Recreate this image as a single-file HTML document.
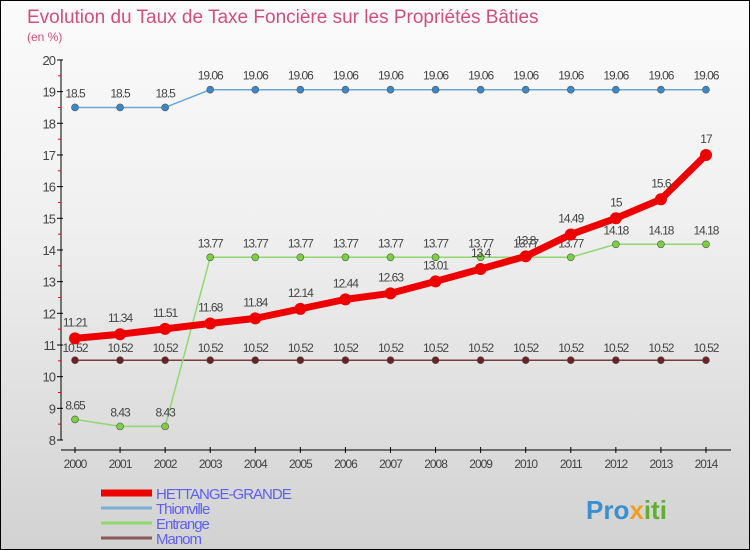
<!DOCTYPE html>
<html><head><meta charset="utf-8"><style>
body{margin:0}
#c{width:748px;height:548px;border:1px solid #000;background:linear-gradient(#fbfbfb,#f0f0f0 40%,#d2d2d2);position:relative;overflow:hidden;font-family:"Liberation Sans",sans-serif}
text{font-family:"Liberation Sans",sans-serif}
</style></head><body>
<div id="c">
<svg id="s" width="748" height="548" xmlns="http://www.w3.org/2000/svg">
<text x="26" y="22" font-size="19" fill="#d0507a">Evolution du Taux de Taxe Foncière sur les Propriétés Bâties</text>
<text x="26" y="40" font-size="12" fill="#d0507a">(en %)</text>
<g id="g"></g>
<text x="585" y="518" font-size="26" font-weight="bold" fill="#3a8fd0">Pro<tspan fill="#f0a020">x</tspan><tspan fill="#60b030">iti</tspan></text>
</svg>
</div>
<script>
const years=[2000,2001,2002,2003,2004,2005,2006,2007,2008,2009,2010,2011,2012,2013,2014];
const hettange=[11.21,11.34,11.51,11.68,11.84,12.14,12.44,12.63,13.01,13.4,13.8,14.49,15,15.6,17];
const hettangeLabels=["11.21","11.34","11.51","11.68","11.84","12.14","12.44","12.63","13.01","13.4","13.8","14.49","15","15.6","17"];
const thionville=[18.5,18.5,18.5,19.06,19.06,19.06,19.06,19.06,19.06,19.06,19.06,19.06,19.06,19.06,19.06];
const entrange=[8.65,8.43,8.43,13.77,13.77,13.77,13.77,13.77,13.77,13.77,13.77,13.77,14.18,14.18,14.18];
const manom=[10.52,10.52,10.52,10.52,10.52,10.52,10.52,10.52,10.52,10.52,10.52,10.52,10.52,10.52,10.52];
const yTicks=[8,9,10,11,12,13,14,15,16,17,18,19,20];
const NS="http://www.w3.org/2000/svg";
const g=document.getElementById('g');
const X=i=>74+i*45.07, Y=v=>439-(v-8)*31.67;
function el(t,a){const e=document.createElementNS(NS,t);for(const k in a)e.setAttribute(k,a[k]);g.appendChild(e);return e;}
let e;
e=el('line',{x1:60,y1:Y(20),x2:60,y2:Y(8),stroke:'#000'});


e=el('line',{x1:60,y1:449,x2:730,y2:449,stroke:'#000'});


yTicks.forEach(v=>{
 el('line',{x1:56,x2:62,y1:Y(v),y2:Y(v),stroke:'#000'});
 if(v<20) el('line',{x1:57,x2:60,y1:Y(v+0.5),y2:Y(v+0.5),stroke:'#f00'});
 e=el('text',{x:54,y:Y(v)+5,'font-size':13,'text-anchor':'end',fill:'#444','letter-spacing':'-1'});e.textContent=v;
 
 
});
years.forEach((y,i)=>{
 el('line',{x1:X(i),x2:X(i),y1:446,y2:452,stroke:'#000'});
 e=el('text',{x:X(i),y:467,'font-size':12,'text-anchor':'middle',fill:'#444','letter-spacing':'-1'});e.textContent=y;
 
 
});
function series(d,col,fill,w,r,name,labels,dy){
 const p=d.map((v,i)=>X(i)+','+Y(v)).join(' ');
 e=el('polyline',{points:p,fill:'none',stroke:col,'stroke-width':w,'stroke-linejoin':'round'});
 
 
 d.forEach((v,i)=>{
  e=el('circle',{cx:X(i),cy:Y(v),r:r,fill:fill,stroke:col==='#e00'?'#e00':'#555','stroke-width':col==='#e00'?0:0.6});
  
  
  e=el('text',{x:X(i),y:Y(v)+dy,'font-size':12,'text-anchor':'middle',fill:'#444','letter-spacing':'-1'});
  e.textContent=labels?labels[i]:v;
  
  
 });
}
series(manom,'#7a3b3b','#6b2222',1.5,3.5,'manom',null,-8);
series(entrange,'#8fd870','#7ad040',1.5,3.5,'entrange',null,-10);
series(thionville,'#6aa6d6','#3a88c8',1.5,3.5,'thionville',null,-10);
series(hettange,'#e00','#e00',7,6,'hettange-grande',hettangeLabels,-12);
const leg=[['HETTANGE-GRANDE','#e00',7],['Thionville','#7aaed6',3],['Entrange','#8fd870',3],['Manom','#8a5a5a',3]];
leg.forEach((l,i)=>{
 const y=492+i*15;
 e=el('line',{x1:100,x2:151,y1:y,y2:y,stroke:l[1],'stroke-width':l[2]});
 
 
 e=el('text',{x:155,y:y+6,'font-size':15,fill:'#6060f0','letter-spacing':'-1'});e.textContent=l[0];
 
 
});
</script>
</body></html>
